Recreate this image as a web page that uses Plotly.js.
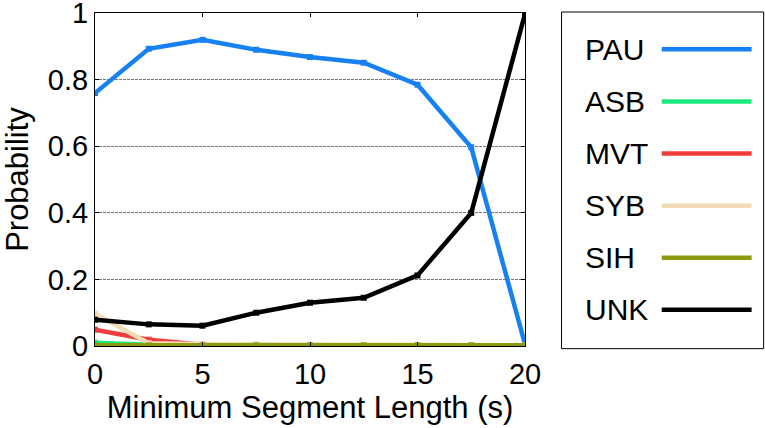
<!DOCTYPE html>
<html>
<head>
<meta charset="utf-8">
<script src="https://cdn.plot.ly/plotly-3.0.1.min.js"></script>
<style>
  html, body { margin: 0; padding: 0; background: #fff; }
  #grafico { width: 765px; height: 428px; }
</style>
</head>
<body>
<div id="grafico"></div>
<script>
// ---------------------------------------------------------------------
// DATOS
// ---------------------------------------------------------------------
const longitudes = [0, 2.5, 5, 7.5, 10, 12.5, 15, 17.5, 20];

const probPAU = [0.76, 0.893, 0.92, 0.89, 0.868, 0.851, 0.785, 0.597, 0.005];
const probASB = [0.01, 0.004, 0.002, 0.001, 0.001, 0.001, 0.001, 0.001, 0.001];
const probMVT = [0.049, 0.019, 0.004, 0.002, 0.001, 0.001, 0.001, 0.001, 0.001];
const probSYB = [0.097, 0.008, 0.006, 0.005, 0.004, 0.003, 0.003, 0.002, 0.002];
const probSIH = [0.002, 0.002, 0.002, 0.002, 0.002, 0.002, 0.002, 0.002, 0.002];
const probUNK = [0.079, 0.065, 0.061, 0.10, 0.13, 0.145, 0.212, 0.40, 0.998];

const nombres = ["PAU", "ASB", "MVT", "SYB", "SIH", "UNK"];
const colores = ["#1780f2", "#1de87c", "#f03c3c", "#f2dcb6", "#8c9a12", "#000000"];
const series = [probPAU, probASB, probMVT, probSYB, probSIH, probUNK];

const ticksY = [0, 0.2, 0.4, 0.6, 0.8, 1];
const ticksX = [0, 5, 10, 15, 20];

// ---------------------------------------------------------------------
// TRAZAS
// ---------------------------------------------------------------------
const trazas = nombres.map((nombre, i) => ({
  x: longitudes,
  y: series[i],
  type: "scatter",
  mode: "lines+markers",
  name: nombre,
  line: { color: colores[i], width: 4.5 },
  marker: { color: colores[i], size: 6, symbol: "square" },
  showlegend: false,
}));

// ---------------------------------------------------------------------
// LEYENDA (texto a la izquierda, linea a la derecha, como en el original)
// ---------------------------------------------------------------------
const fuente = "Liberation Sans, Arial, sans-serif";
const legX0 = 1.085, legX1 = 1.555;       // caja en coordenadas paper
const legY0 = -0.008, legY1 = 1.003;
const filaY = (i) => 0.891 - i * 0.1565;

const formas = [{
  type: "rect", xref: "paper", yref: "paper",
  x0: legX0, x1: legX1, y0: legY0, y1: legY1,
  line: { color: "#000", width: 1 }, fillcolor: "rgba(0,0,0,0)",
}];
const anotaciones = [];
nombres.forEach((nombre, i) => {
  formas.push({
    type: "line", xref: "paper", yref: "paper",
    x0: 1.318, x1: 1.527, y0: filaY(i), y1: filaY(i),
    line: { color: colores[i], width: 4.5 },
  });
  anotaciones.push({
    xref: "paper", yref: "paper", x: 1.135, y: filaY(i),
    xanchor: "left", yanchor: "middle", showarrow: false,
    text: nombre, font: { family: fuente, size: 30, color: "#000" },
  });
});

// ---------------------------------------------------------------------
// LAYOUT
// ---------------------------------------------------------------------
const layout = {
  width: 765,
  height: 428,
  margin: { l: 95, r: 240, t: 13, b: 82 },
  paper_bgcolor: "#fff",
  plot_bgcolor: "#fff",
  font: { family: fuente, size: 29, color: "#000" },
  xaxis: {
    range: [0, 20],
    tickvals: ticksX,
    ticks: "inside", ticklen: 4, tickcolor: "#000",
    showline: true, linecolor: "#000", linewidth: 1, mirror: "ticks",
    showgrid: false, zeroline: false,
    tickfont: { size: 29 },
    ticklabelstandoff: 2,
    title: { text: "Minimum Segment Length (s)", font: { size: 31 }, standoff: 2 },
  },
  yaxis: {
    range: [0, 1.0005],
    tickvals: ticksY,
    ticks: "inside", ticklen: 4, tickcolor: "#000",
    showline: true, linecolor: "#000", linewidth: 1, mirror: "ticks",
    showgrid: true, gridcolor: "#777", griddash: "3px,1px", gridwidth: 1,
    zeroline: false,
    tickfont: { size: 29 },
    ticklabeloverflow: "allow",
    title: { text: "Probability", font: { size: 31 }, standoff: 17 },
  },
  shapes: formas,
  annotations: anotaciones,
  showlegend: false,
};

Plotly.newPlot("grafico", trazas, layout, { staticPlot: true, displayModeBar: false });
</script>
</body>
</html>
